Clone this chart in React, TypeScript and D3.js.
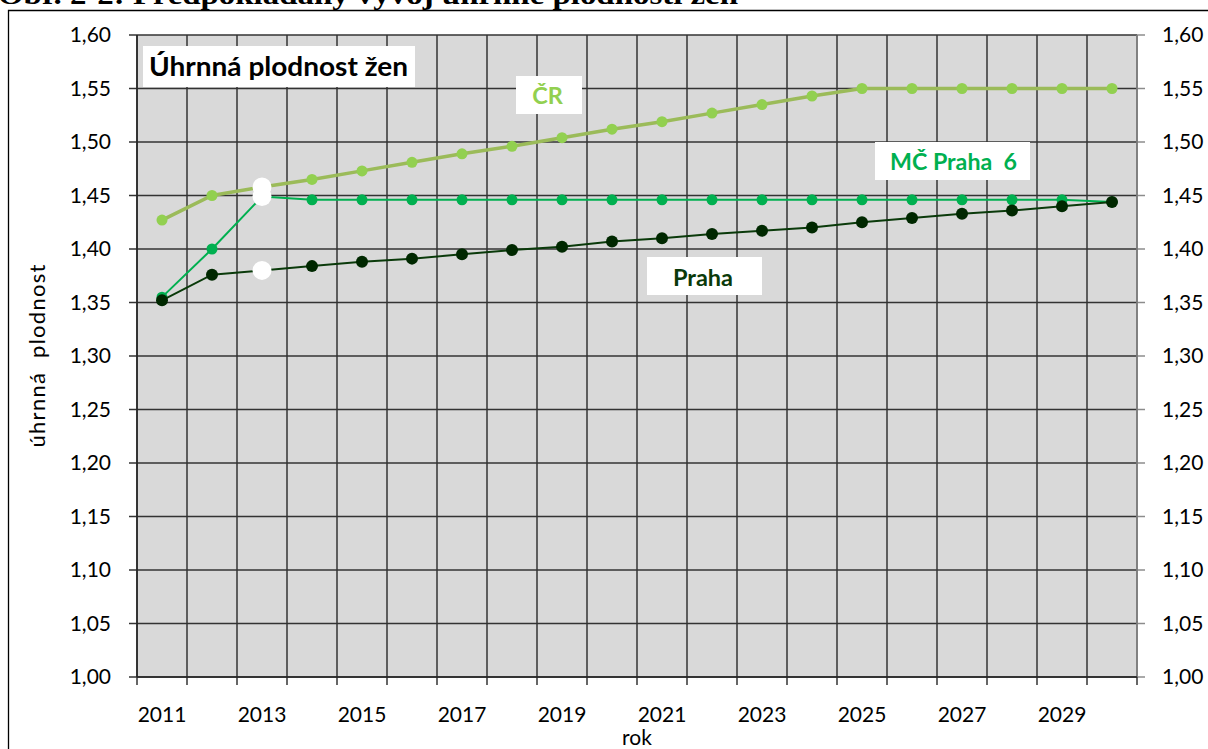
import React from "react";
import * as d3 from "d3";

const years = ["2011","2012","2013","2014","2015","2016","2017","2018","2019","2020","2021","2022","2023","2024","2025","2026","2027","2028","2029","2030"];
const labeledYears = ["2011","2013","2015","2017","2019","2021","2023","2025","2027","2029"];
const crValues = [1.427,1.450,1.458,1.465,1.473,1.481,1.489,1.496,1.504,1.512,1.519,1.527,1.535,1.543,1.550,1.550,1.550,1.550,1.550,1.550];
const mcValues = [1.355,1.400,1.449,1.446,1.446,1.446,1.446,1.446,1.446,1.446,1.446,1.446,1.446,1.446,1.446,1.446,1.446,1.446,1.446,1.444];
const prahaValues = [1.352,1.376,1.380,1.384,1.388,1.391,1.395,1.399,1.402,1.407,1.410,1.414,1.417,1.420,1.425,1.429,1.433,1.436,1.440,1.444];
const highlightYear = "2013";
const yTicks = [1.0,1.05,1.1,1.15,1.2,1.25,1.3,1.35,1.4,1.45,1.5,1.55,1.6];

const FONT = "Lato, 'Open Sans', sans-serif";

export default function App() {
  const left = 137, right = 1137, top = 35, bottom = 677;
  const x = d3.scaleBand<string>().domain(years).range([left, right]);
  const y = d3.scaleLinear().domain([1.0, 1.6]).range([bottom, top]);
  const cx = (yr: string) => (x(yr) as number) + x.bandwidth() / 2;
  const fmt = (v: number) => v.toFixed(2).replace(".", ",");
  const line = d3.line<number>().x((_, i) => cx(years[i])).y((v) => y(v));

  const series = [
    { name: "ČR", values: crValues, line: "#9BBB59", marker: "#92D050", width: 3.5, r: 5.5 },
    { name: "MČ Praha 6", values: mcValues, line: "#00B050", marker: "#00B050", width: 2, r: 5.5 },
    { name: "Praha", values: prahaValues, line: "#0A3A0A", marker: "#002800", width: 2, r: 6 },
  ];
  const hi = years.indexOf(highlightYear);
  const boundaries = years.map((yr) => x(yr) as number).concat([right]);
  const tickSize = 21;

  return (
    <svg width={1208} height={749} style={{ position: "absolute", left: 0, top: 0, background: "#fff" }}>
      <text x={-2} y={4} fontFamily="'Liberation Serif', 'Times New Roman', serif" fontWeight="bold" fontSize={27} textLength={740} lengthAdjust="spacingAndGlyphs" fill="#000">
        Obr. 2-2: Předpokládaný vývoj úhrnné plodnosti žen
      </text>
      <path d={`M8.5,760 V10.5 H1215`} fill="none" stroke="#000" strokeWidth={1.3} />

      <rect x={left} y={top} width={right - left} height={bottom - top} fill="#D9D9D9" />
      {yTicks.map((t) => (
        <line key={"gy" + t} x1={left - 8} x2={right} y1={y(t)} y2={y(t)} stroke="#333" strokeWidth={1.5} />
      ))}
      {yTicks.map((t) => (
        <line key={"gyr" + t} x1={right} x2={right + 8} y1={y(t)} y2={y(t)} stroke="#8c8c8c" strokeWidth={1.5} />
      ))}
      {boundaries.map((b, i) => (
        <line key={"gx" + i} x1={b} x2={b} y1={top} y2={bottom + 8} stroke="#333" strokeWidth={1.5} />
      ))}
      <line x1={left} x2={left} y1={top} y2={bottom} stroke="#262626" strokeWidth={1.5} />
      <line x1={right} x2={right} y1={top} y2={bottom} stroke="#8c8c8c" strokeWidth={1.5} />
      <line x1={left} x2={right} y1={bottom} y2={bottom} stroke="#262626" strokeWidth={1.5} />

      {yTicks.map((t) => (
        <text key={"ly" + t} x={111} y={y(t)} dy="0.35em" textAnchor="end" fontFamily={FONT} fontSize={tickSize} fill="#000">{fmt(t)}</text>
      ))}
      {yTicks.map((t) => (
        <text key={"ry" + t} x={1162} y={y(t)} dy="0.35em" textAnchor="start" fontFamily={FONT} fontSize={tickSize} fill="#000">{fmt(t)}</text>
      ))}
      {labeledYears.map((yr) => (
        <text key={"lx" + yr} x={cx(yr)} y={715} dy="0.35em" textAnchor="middle" fontFamily={FONT} fontSize={tickSize} fill="#000">{yr}</text>
      ))}
      <text x={(left + right) / 2} y={738} dy="0.35em" textAnchor="middle" fontFamily={FONT} fontSize={tickSize} fill="#000">rok</text>
      <text transform={`translate(37,${(top + bottom) / 2}) rotate(-90)`} textAnchor="middle" dy="0.35em" fontFamily={FONT} fontSize={22} textLength={183} lengthAdjust="spacing" fill="#000" style={{ whiteSpace: "pre" }}>úhrnná  plodnost</text>

      {series.map((s) => (
        <g key={s.name}>
          <path d={line(s.values) as string} fill="none" stroke={s.line} strokeWidth={s.width} />
          {s.values.map((v, i) => (
            <circle key={i} cx={cx(years[i])} cy={y(v)} r={s.r} fill={s.marker} />
          ))}
        </g>
      ))}
      {series.map((s) => (
        <circle key={"w" + s.name} cx={cx(highlightYear)} cy={y(s.values[hi])} r={9.5} fill="#fff" />
      ))}

      <rect x={143} y={46} width={272} height={41} fill="#fff" />
      <text x={149} y={76} fontFamily={FONT} fontWeight="bold" fontSize={27} textLength={259} lengthAdjust="spacingAndGlyphs" fill="#000">Úhrnná plodnost žen</text>

      <rect x={516} y={76} width={66} height={38} fill="#fff" />
      <text x={547.5} y={104} textAnchor="middle" fontFamily={FONT} fontWeight="bold" fontSize={23.5} fill="#92D050">ČR</text>

      <rect x={875} y={142} width={155} height={38} fill="#fff" />
      <text x={890} y={170} fontFamily={FONT} fontWeight="bold" fontSize={23} textLength={127} lengthAdjust="spacingAndGlyphs" fill="#00B050" style={{ whiteSpace: "pre" }}>MČ Praha  6</text>

      <rect x={647} y={257} width={115} height={38} fill="#fff" />
      <text x={703} y={285.5} textAnchor="middle" fontFamily={FONT} fontWeight="bold" fontSize={23.5} fill="#0A3A0A">Praha</text>
    </svg>
  );
}
